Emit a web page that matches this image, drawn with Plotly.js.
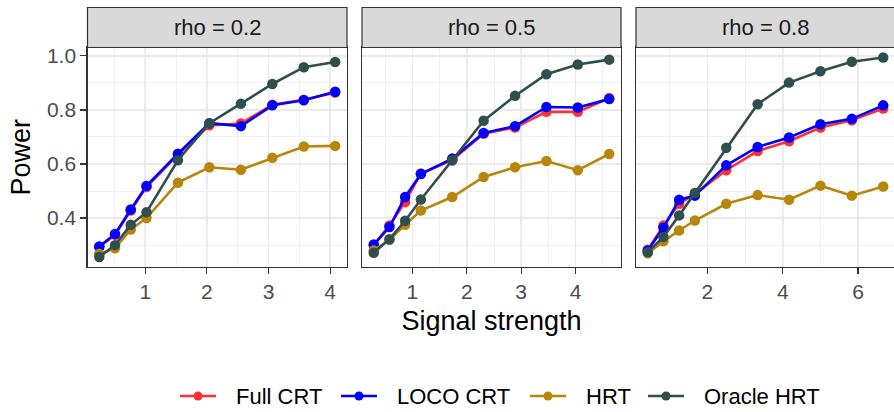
<!DOCTYPE html>
<html><head><meta charset="utf-8">
<script src="https://cdn.plot.ly/plotly-3.0.1.min.js"></script>
<style>html,body{margin:0;padding:0;overflow:hidden;background:#fff}#chart{width:900px;height:412px}</style>
</head><body><div id="chart"></div>
<script>
// ---- data ----
const facets = ['rho = 0.2', 'rho = 0.5', 'rho = 0.8'];
const seriesNames = ['Full CRT', 'LOCO CRT', 'HRT', 'Oracle HRT'];
const seriesColors = ['#FF3030', '#0000FF', '#B8860B', '#2F4F4F'];

const signal_rho02 = [0.255, 0.510, 0.765, 1.021, 1.531, 2.041, 2.552, 3.062, 3.572, 4.082];
const signal_rho05 = [0.289, 0.577, 0.866, 1.155, 1.732, 2.309, 2.887, 3.464, 4.041, 4.619];
const signal_rho08 = [0.417, 0.833, 1.250, 1.667, 2.500, 3.333, 4.167, 5.000, 5.833, 6.667];

const fullCRT_rho02 = [0.293, 0.338, 0.428, 0.515, 0.634, 0.743, 0.750, 0.819, 0.838, 0.864];
const locoCRT_rho02 = [0.295, 0.341, 0.432, 0.519, 0.638, 0.751, 0.740, 0.817, 0.836, 0.867];
const hrt_rho02     = [0.268, 0.288, 0.358, 0.400, 0.531, 0.588, 0.579, 0.623, 0.665, 0.667];
const oracle_rho02  = [0.256, 0.300, 0.375, 0.422, 0.614, 0.751, 0.823, 0.896, 0.958, 0.977];

const fullCRT_rho05 = [0.300, 0.373, 0.459, 0.565, 0.614, 0.712, 0.735, 0.793, 0.793, 0.844];
const locoCRT_rho05 = [0.302, 0.367, 0.478, 0.563, 0.620, 0.715, 0.740, 0.811, 0.809, 0.840];
const hrt_rho05     = [0.280, 0.320, 0.375, 0.428, 0.478, 0.552, 0.588, 0.611, 0.577, 0.637];
const oracle_rho05  = [0.272, 0.322, 0.390, 0.469, 0.614, 0.760, 0.852, 0.932, 0.968, 0.986];

const fullCRT_rho08 = [0.283, 0.373, 0.453, 0.488, 0.577, 0.648, 0.684, 0.735, 0.762, 0.805];
const locoCRT_rho08 = [0.280, 0.364, 0.468, 0.483, 0.595, 0.663, 0.698, 0.747, 0.767, 0.817];
const hrt_rho08     = [0.270, 0.314, 0.354, 0.391, 0.453, 0.485, 0.468, 0.520, 0.483, 0.517];
const oracle_rho08  = [0.274, 0.330, 0.410, 0.493, 0.660, 0.821, 0.901, 0.943, 0.978, 0.994];

const xTickDtick = [1, 1, 2];

// ---- build ----
const W = 900, H = 412;
const FONT = 'Liberation Sans, Arial, sans-serif';
const panelsPx = [[87.5, 347], [362, 621], [636, 895]];
const plotTop = 47.5, plotBot = 267, stripTop = 7.5;
const py = v => (H - v) / H;
const px = v => v / W;

const panelData = [
  {x: signal_rho02, ys: [fullCRT_rho02, locoCRT_rho02, hrt_rho02, oracle_rho02]},
  {x: signal_rho05, ys: [fullCRT_rho05, locoCRT_rho05, hrt_rho05, oracle_rho05]},
  {x: signal_rho08, ys: [fullCRT_rho08, locoCRT_rho08, hrt_rho08, oracle_rho08]}
];

function expandRange(arrs) {
  let lo = Infinity, hi = -Infinity;
  arrs.forEach(a => a.forEach(v => { lo = Math.min(lo, v); hi = Math.max(hi, v); }));
  const d = (hi - lo) * 0.05;
  return [lo - d, hi + d];
}
const yRange = expandRange(panelData.flatMap(p => p.ys));

const traces = [];
panelData.forEach((p, i) => {
  const sfx = i === 0 ? '' : String(i + 1);
  p.ys.forEach((y, s) => {
    traces.push({
      type: 'scatter', mode: 'lines+markers', x: p.x, y: y,
      name: seriesNames[s], showlegend: false,
      xaxis: 'x' + sfx, yaxis: 'y' + sfx,
      line: {color: seriesColors[s], width: 2.6},
      marker: {color: seriesColors[s], size: 10.5},
      cliponaxis: false
    });
  });
});

const layout = {
  width: W, height: H,
  margin: {l: 0, r: 0, t: 0, b: 0},
  paper_bgcolor: '#fff', plot_bgcolor: '#fff',
  font: {family: FONT, color: '#000'},
  showlegend: false,
  shapes: [], annotations: []
};

panelsPx.forEach((pp, i) => {
  const sfx = i === 0 ? '' : String(i + 1);
  const xr = expandRange([panelData[i].x]);
  layout['xaxis' + sfx] = {
    domain: [px(pp[0]), px(pp[1])], anchor: 'y' + sfx, range: xr,
    tick0: 0, dtick: xTickDtick[i],
    showgrid: true, gridcolor: '#EBEBEB', gridwidth: 1.5,
    minor: {tick0: 0, dtick: xTickDtick[i] / 2, showgrid: true, gridcolor: '#EFEFEF', gridwidth: 0.9},
    zeroline: false, showline: true, mirror: true, linecolor: '#333333', linewidth: 1.2,
    ticks: 'outside', ticklen: 6, tickwidth: 1.2, tickcolor: '#333333',
    tickfont: {size: 21, color: '#4D4D4D', family: FONT},
    fixedrange: true
  };
  layout['yaxis' + sfx] = {
    domain: [py(plotBot), py(plotTop)], anchor: 'x' + sfx, range: yRange,
    tick0: 0, dtick: 0.2,
    showgrid: true, gridcolor: '#EBEBEB', gridwidth: 1.5,
    minor: {tick0: 0, dtick: 0.1, showgrid: true, gridcolor: '#EFEFEF', gridwidth: 0.9},
    zeroline: false, showline: true, mirror: true, linecolor: '#333333', linewidth: 1.2,
    ticks: i === 0 ? 'outside' : '', ticklen: 6, tickwidth: 1.2, tickcolor: '#333333',
    showticklabels: i === 0, tickformat: '.1f',
    tickfont: {size: 21, color: '#4D4D4D', family: FONT},
    fixedrange: true
  };
  // strip
  layout.shapes.push({
    type: 'rect', xref: 'paper', yref: 'paper',
    x0: px(pp[0]), x1: px(pp[1]), y0: py(plotTop), y1: py(stripTop),
    fillcolor: '#D9D9D9', line: {color: '#333333', width: 1.2}, layer: 'above'
  });
  layout.annotations.push({
    xref: 'paper', yref: 'paper', x: px((pp[0] + pp[1]) / 2), y: py((plotTop + stripTop) / 2),
    xanchor: 'center', yanchor: 'middle', showarrow: false,
    text: facets[i], font: {size: 22, color: '#1A1A1A', family: FONT}
  });
});

layout.xaxis2.title = {text: 'Signal strength', font: {size: 27, color: '#000', family: FONT}, standoff: 8};
layout.yaxis.title = {text: 'Power', font: {size: 27, color: '#000', family: FONT}, standoff: 8};

// legend (drawn as layout items)
const legY = py(396);
const legStarts = [180, 341, 530, 648];
seriesNames.forEach((nm, s) => {
  const x0 = legStarts[s];
  layout.shapes.push({type: 'line', xref: 'paper', yref: 'paper', x0: px(x0), x1: px(x0 + 36), y0: legY, y1: legY,
    line: {color: seriesColors[s], width: 2.6}});
  layout.shapes.push({type: 'circle', xref: 'paper', yref: 'paper', xsizemode: 'pixel', ysizemode: 'pixel',
    xanchor: px(x0 + 18), yanchor: legY, x0: -4.5, x1: 4.5, y0: -4.5, y1: 4.5,
    fillcolor: seriesColors[s], line: {width: 0}});
  layout.annotations.push({xref: 'paper', yref: 'paper', x: px(x0 + 54), y: legY, xanchor: 'left', yanchor: 'middle',
    showarrow: false, text: nm, font: {size: 22, color: '#000', family: FONT}});
});

Plotly.newPlot('chart', traces, layout, {staticPlot: true, displayModeBar: false});
</script></body></html>
